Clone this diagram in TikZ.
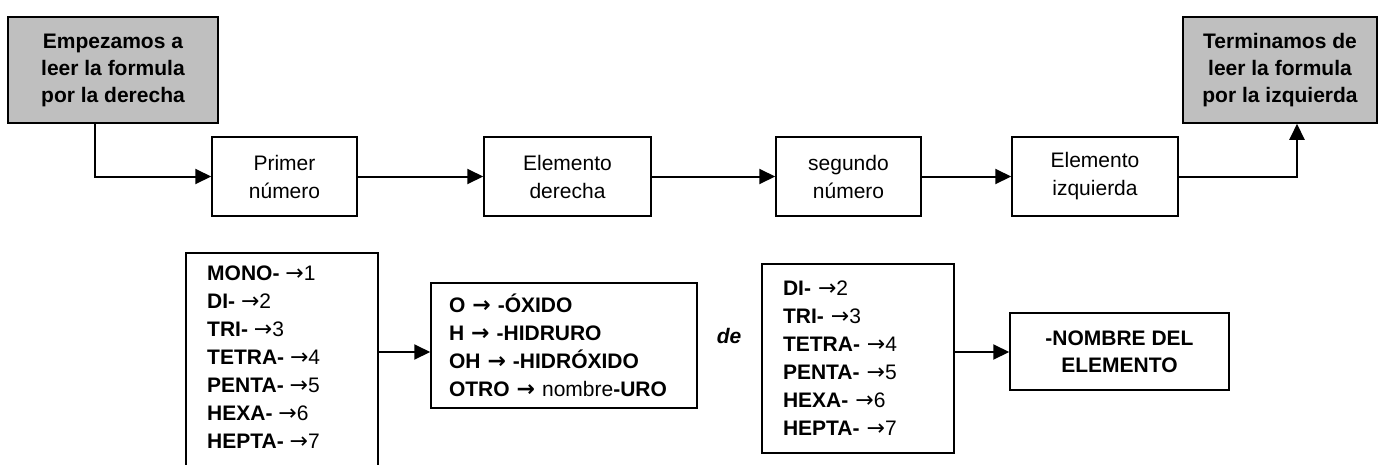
\documentclass[tikz,border=0pt]{standalone}
\usepackage{fontspec}
\setmainfont{Liberation Sans}
\newfontfamily\arrfont{DejaVu Sans}
\newcommand\rarr{{\arrfont\fontsize{22}{28}\selectfont →}}
\usetikzlibrary{arrows.meta}
\begin{document}
\begin{tikzpicture}[x=1pt,y=-1pt,
  every node/.style={font=\fontsize{21}{28}\selectfont},
  box/.style={draw=black, line width=1.5pt, rectangle, inner sep=0pt, align=center},
  graybox/.style={box, fill=black!25, font=\bfseries\fontsize{21}{27}\selectfont},
  listbox/.style={draw=black, line width=1.5pt, rectangle, inner ysep=0pt, align=left},
  arr/.style={line width=2pt, -{Triangle[length=16pt,width=15pt]}}
]
\useasboundingbox (0,0) rectangle (1382,464);

% top row
\node[graybox, minimum width=210, minimum height=106] (gl) at (113,70) {Empezamos a\\leer la formula\\por la derecha};
\node[graybox, minimum width=194, minimum height=106] (gr) at (1280,70) {Terminamos de\\leer la formula\\por la izquierda};

\node[box, minimum width=145, minimum height=79] (p1) at (284.5,176.5) {Primer\\número};
\node[box, minimum width=167, minimum height=79] (e1) at (567.5,176.5) {Elemento\\derecha};
\node[box, minimum width=145, minimum height=79] (p2) at (848.5,176.5) {segundo\\número};
\node[box, minimum width=166, minimum height=79] (e2) at (1095,176.5) {Elemento\\izquierda};

\draw[arr] ([xshift=-18pt]gl.south) |- (p1.west);
\draw[arr] (p1.east) -- (e1.west);
\draw[arr] (e1.east) -- (p2.west);
\draw[arr] (p2.east) -- (e2.west);
\draw[arr] (e2.east) -| ([xshift=17pt]gr.south);

% bottom row
\coordinate (r) at (0,352);
\node[box, anchor=north west, minimum width=192, minimum height=240] (l1) at (185,252) {};
\node[anchor=north west, align=left, inner sep=0pt] (l1t) at (207,266)
  {\textbf{MONO-} \rarr1\\\textbf{DI-} \rarr2\\\textbf{TRI-} \rarr3\\\textbf{TETRA-} \rarr4\\\textbf{PENTA-} \rarr5\\\textbf{HEXA-} \rarr6\\\textbf{HEPTA-} \rarr7};

\node[listbox, minimum height=125, text width=230pt, inner xsep=18pt] (ob) at (564,345.5)
  {\textbf{O \rarr\ -ÓXIDO}\\\textbf{H \rarr\ -HIDRURO}\\\textbf{OH \rarr\ -HIDRÓXIDO}\\\textbf{OTRO \rarr} nombre\textbf{-URO}};

\node[inner sep=0pt] (de) at (729,336) {\textbf{\itshape de}};

\node[listbox, minimum height=189, text width=150pt, inner xsep=21pt] (l3) at (858,358.5)
  {\textbf{DI-} \rarr2\\\textbf{TRI-} \rarr3\\\textbf{TETRA-} \rarr4\\\textbf{PENTA-} \rarr5\\\textbf{HEXA-} \rarr6\\\textbf{HEPTA-} \rarr7};

\node[box, minimum width=219, minimum height=77, font=\bfseries\fontsize{21}{27}\selectfont] (nb) at (1119.5,351.5) {-NOMBRE DEL\\ELEMENTO};

\draw[arr] (l1.east |- r) -- (ob.west |- r);
\draw[arr] (l3.east |- r) -- (nb.west |- r);
\end{tikzpicture}
\end{document}
